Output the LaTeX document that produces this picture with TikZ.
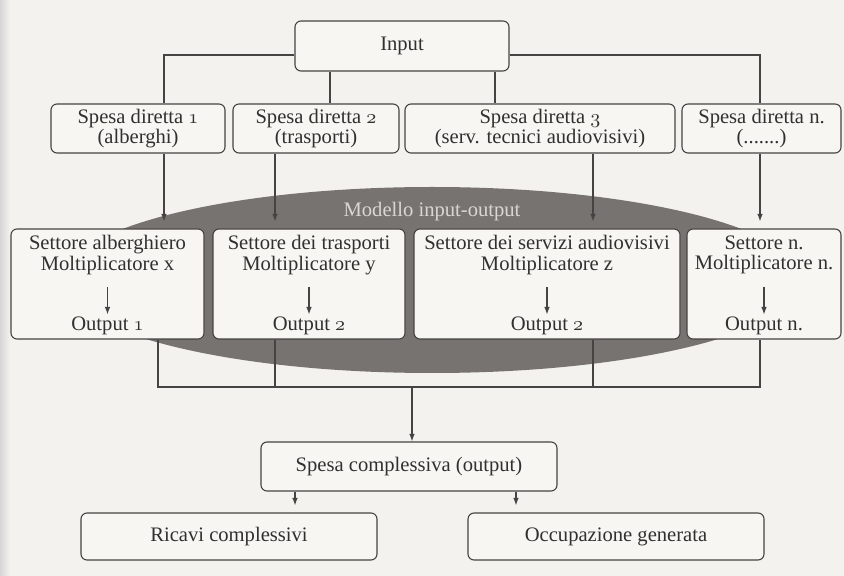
\documentclass[tikz,border=0pt]{standalone}
\usepackage{fontspec}
\setmainfont{Liberation Serif}
\usepackage{tikz}
\usetikzlibrary{positioning,arrows.meta,shapes.geometric}
\definecolor{paper}{HTML}{F4F2EE}
\definecolor{boxfill}{HTML}{F7F6F3}
\definecolor{ink}{HTML}{464442}
\definecolor{modelgray}{HTML}{767371}
\definecolor{modeltext}{HTML}{DAD7D3}
\newcommand{\osn}[1]{{\usefont{OML}{cmm}{m}{it}#1}}

\begin{document}
\begin{tikzpicture}[x=0.5pt,y=-0.5pt,
  font=\fontsize{10.3}{10.3}\selectfont,
  box/.style={draw=ink,line width=0.55pt,rounded corners=3pt,fill=boxfill,
    text=ink!70!black,align=center,inner sep=1pt},
  txt/.style={text=ink!70!black,align=center,inner sep=1pt},
  link/.style={draw=ink,line width=0.6pt},
  arr/.style={link,-{Latex[length=3.8pt,width=2.8pt]}}]
  \useasboundingbox (0,0) rectangle (844,576);
  \fill[paper] (0,0) rectangle (844,576);
  \shade[left color=black!16,right color=paper] (0,0) rectangle (10,576);
  % modello input-output
  \node[ellipse,fill=modelgray,minimum width=370pt,minimum height=93pt] (model) at (432,280) {};
  \node[text=modeltext] (mlab) at (432,212) {Modello input-output};
  % input e spese dirette
  \node[box,minimum width=107pt,minimum height=25pt] (input) at (402,46) {Input};
  \node[box,minimum width=87pt,minimum height=24.5pt] (sd1) at (138,128.5) {Spesa diretta \osn{1}\\(alberghi)};
  \node[box,minimum width=83pt,minimum height=24.5pt] (sd2) at (316,128.5) {Spesa diretta \osn{2}\\(trasporti)};
  \node[box,minimum width=135pt,minimum height=24.5pt] (sd3) at (540,128.5) {Spesa diretta \osn{3}\\(serv. tecnici audiovisivi)};
  \node[box,minimum width=79.5pt,minimum height=24.5pt] (sd4) at (761.5,128.5) {Spesa diretta n.\\(.......)};
  \coordinate (hl) at (164,55);
  \coordinate (hr) at (760,55);
  \coordinate (v2) at (330,0);
  \coordinate (v3) at (495,0);
  \draw[link] (sd1.north -| hl) -- (hl) -- (input.west |- hl);
  \draw[link] (input.east |- hr) -- (hr) -- (sd4.north -| hr);
  \draw[link] (input.south -| v2) -- (sd2.north -| v2);
  \draw[link] (input.south -| v3) -- (sd3.north -| v3);
  % settori
  \node[box,minimum width=96.5pt,minimum height=55pt] (st1) at (107.5,284) {};
  \node[box,minimum width=96pt,minimum height=55pt] (st2) at (309,284) {};
  \node[box,minimum width=133pt,minimum height=55pt] (st3) at (547,284) {};
  \node[box,minimum width=77pt,minimum height=55pt] (st4) at (764,284) {};
  \node[txt] (m1) at (107.5,255) {Settore alberghiero\\Moltiplicatore x};
  \node[txt] (m2) at (309,255) {Settore dei trasporti\\Moltiplicatore y};
  \node[txt] (m3) at (547,255) {Settore dei servizi audiovisivi\\Moltiplicatore z};
  \node[txt] (m4) at (764,255) {Settore n.\\Moltiplicatore n.};
  \node[txt] (o1) at (107.5,326) {Output \osn{1}};
  \node[txt] (o2) at (309,326) {Output \osn{2}};
  \node[txt] (o3) at (547,326) {Output \osn{2}};
  \node[txt] (o4) at (764,326) {Output n.};
  \foreach \i in {1,...,4}
    \draw[arr,shorten <=5pt,shorten >=0pt] (m\i) -- (o\i);
  \coordinate (a1) at (164,0);
  \coordinate (a2) at (275,0);
  \coordinate (a3) at (593,0);
  \coordinate (a4) at (760,0);
  \foreach \i in {1,...,4}
    \draw[arr,shorten >=3.5pt] (sd\i.south -| a\i) -- (st\i.north -| a\i);
  % spesa complessiva
  \node[box,minimum width=148pt,minimum height=24.5pt] (tot) at (409,466.5) {Spesa complessiva (output)};
  \node[box,minimum width=148pt,minimum height=23.5pt] (ric) at (229,536.5) {Ricavi complessivi};
  \node[box,minimum width=148pt,minimum height=23.5pt] (occ) at (616,536.5) {Occupazione generata};
  \coordinate (b1) at (158,387);
  \coordinate (b2) at (275,387);
  \coordinate (b3) at (593,387);
  \coordinate (b4) at (760,387);
  \coordinate (jn) at (412,387);
  \draw[link] (st1.south -| b1) -- (b1) -- (b4) -- (st4.south -| b4);
  \draw[link] (st2.south -| b2) -- (b2);
  \draw[link] (st3.south -| b3) -- (b3);
  \draw[arr] (jn) -- (tot.north -| jn);
  \coordinate (r1) at (295,0);
  \coordinate (r2) at (516,0);
  \draw[arr,shorten >=3.5pt] (tot.south -| r1) -- (ric.north -| r1);
  \draw[arr,shorten >=3.5pt] (tot.south -| r2) -- (occ.north -| r2);
\end{tikzpicture}
\end{document}
